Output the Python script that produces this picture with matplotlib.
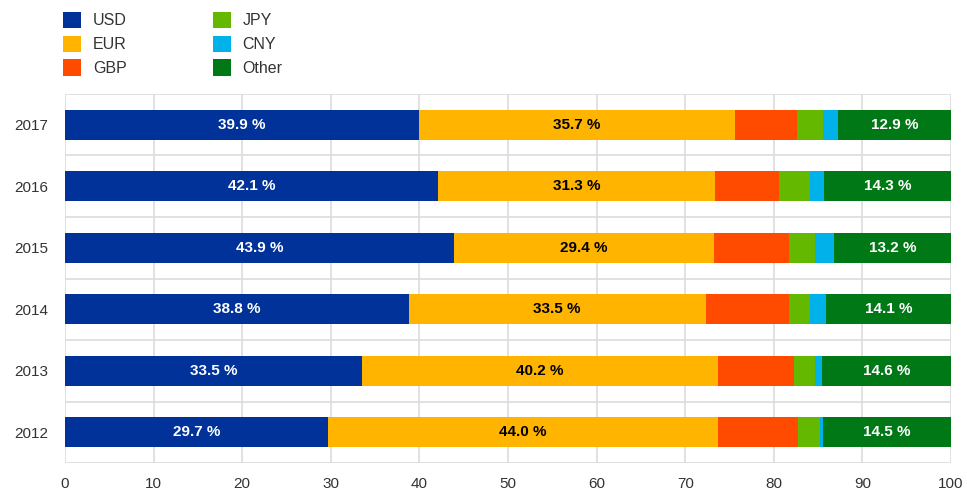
import numpy as np
import matplotlib.pyplot as plt
from matplotlib.patches import Patch

plt.rcParams['font.family'] = ['Liberation Sans', 'DejaVu Sans']

years = ['2012', '2013', '2014', '2015', '2016', '2017']
usd = [29.7, 33.5, 38.8, 43.9, 42.1, 39.9]
eur = [44.0, 40.2, 33.5, 29.4, 31.3, 35.7]
gbp = [9.0, 8.6, 9.4, 8.4, 7.2, 7.0]
jpy = [2.5, 2.3, 2.4, 2.9, 3.5, 3.0]
cny = [0.3, 0.8, 1.8, 2.2, 1.6, 1.6]
other = [14.5, 14.6, 14.1, 13.2, 14.3, 12.9]

series = ['USD', 'EUR', 'GBP', 'JPY', 'CNY', 'Other']
values = [usd, eur, gbp, jpy, cny, other]
colors = ['#003299', '#ffb400', '#ff4b00', '#65b800', '#00b1ea', '#007816']
label_colors = {'USD': 'white', 'EUR': 'black', 'Other': 'white'}

fig = plt.figure(figsize=(9.67, 4.94), dpi=100)
ax = fig.add_axes([65 / 967, 1 - 463 / 494, 886 / 967, 369 / 494])

y = np.arange(len(years))
left = np.zeros(len(years))
for name, vals, col in zip(series, values, colors):
    vals = np.array(vals)
    ax.barh(y, vals, left=left, height=0.49, color=col, zorder=3)
    if name in label_colors:
        for yi, (l, v) in enumerate(zip(left, vals)):
            ax.text(l + v / 2, yi, f'{v:.1f} %', ha='center', va='center',
                    color=label_colors[name], fontsize=11, fontweight='bold', zorder=4)
    left += vals

ax.set_xlim(0, 100)
ax.set_ylim(-0.5, len(years) - 0.5)
ax.set_xticks(np.arange(0, 101, 10))
ax.set_yticks(y)
ax.set_yticklabels(years)
ax.set_yticks(np.arange(-0.5, len(years), 1), minor=True)
ax.grid(axis='x', which='major', color='#dcdcdc', lw=1.2, zorder=0)
ax.grid(axis='y', which='minor', color='#dcdcdc', lw=1.2, zorder=0)
ax.tick_params(axis='both', which='both', length=0, labelsize=11, colors='#333333')
ax.tick_params(axis='x', pad=10)
ax.tick_params(axis='y', pad=12)
for s in ax.spines.values():
    s.set_visible(False)

handles = [Patch(facecolor=c, label=n) for n, c in zip(series, colors)]
fig.legend(handles=handles, ncol=2, loc='upper left', bbox_to_anchor=(49 / 967, 1.005),
           frameon=False, fontsize=11.5, handlelength=1.1, handleheight=1.2,
           handletextpad=0.75, columnspacing=5.4, labelspacing=0.45,
           labelcolor='#333333')

fig.savefig('out.png', dpi=100)
